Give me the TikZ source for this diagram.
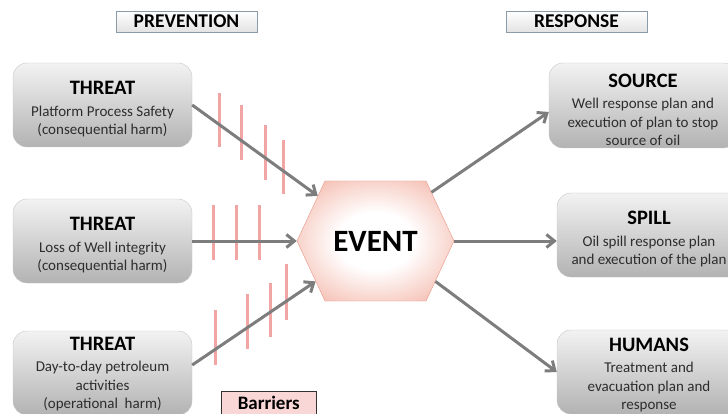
\documentclass[tikz,border=0pt]{standalone}
\usepackage{fontspec}
\setmainfont{Carlito}
\usetikzlibrary{shapes.symbols,arrows.meta,positioning}

\definecolor{arrowgray}{RGB}{125,125,125}
\definecolor{barrierpink}{RGB}{242,165,165}
\definecolor{salmon}{RGB}{240,160,142}
\definecolor{hexborder}{RGB}{232,150,135}
\definecolor{labelpink}{RGB}{250,215,215}
\definecolor{labelframe}{RGB}{140,155,170}
\definecolor{boxtext}{RGB}{45,45,45}

\pgfdeclareradialshading{eventglow}{\pgfpoint{0bp}{0bp}}{%
  color(0bp)=(white); color(12bp)=(white); color(40bp)=(salmon); color(50bp)=(salmon)}

\tikzset{
  threatbox/.style={rounded corners=14pt, top color=gray!10, bottom color=gray!60,
    draw=gray!45, minimum width=179pt, minimum height=84pt, inner sep=0pt,
    align=center, text=boxtext, font=\fontsize{15}{18.5}\selectfont},
  headbox/.style={draw=labelframe, top color=white, bottom color=gray!22,
    minimum width=141pt, minimum height=21pt, inner sep=0pt,
    font=\bfseries\fontsize{19.5}{20}\selectfont},
  flow/.style={draw=arrowgray, line width=3pt,
    -{Straight Barb[length=8pt,width=13pt]}},
  barrier/.style={draw=barrierpink, line width=3pt},
}
\newcommand{\boxtitle}[2][22pt]{\rule{0pt}{#1}{\color{black}\bfseries\fontsize{20.5}{22}\selectfont #2}}

\begin{document}
\begin{tikzpicture}[x=1pt,y=-1pt]
\clip (0,0) rectangle (728,414);
\useasboundingbox (0,0) rectangle (728,414);

% headings
\node[headbox] (prev) at (186.5,21.5) {PREVENTION};
\node[headbox] (resp) at (576.5,21.5) {RESPONSE};

% threats
\node[threatbox] (t1) at (102.5,105) {\boxtitle{THREAT}\\[3pt]Platform Process Safety\\(consequential harm)};
\node[threatbox] (t2) at (102.5,241) {\boxtitle{THREAT}\\[3pt]Loss of Well integrity\\(consequential harm)};
\node[threatbox] (t3) at (102.5,373) {\boxtitle[15pt]{THREAT}\\[3pt]Day-to-day petroleum\\activities\\(operational\ \ harm)};

% responses
\node[threatbox, minimum width=188pt, minimum height=85pt] (src) at (643,105.5) {\boxtitle{SOURCE}\\[3pt]Well response plan and\\execution of plan to stop\\source of oil};
\node[threatbox, minimum width=184pt] (spill) at (649,235) {\boxtitle{SPILL}\\[3pt]Oil spill response plan\\and execution of the plan};
\node[threatbox, minimum width=184pt] (hum) at (649,372) {\boxtitle[19pt]{HUMANS}\\[3pt]Treatment and\\evacuation plan and\\response};

% event
\node[signal, signal to=west and east, signal pointer angle=130,
  minimum width=157pt, minimum height=120pt, inner sep=0pt,
  draw=hexborder, shading=eventglow,
  font=\bfseries\fontsize{31}{32}\selectfont] (event) at (375.5,241) {EVENT};

% barriers
\foreach \x/\ya/\yb in {219/93/147, 241/105/160, 265/125/180, 283/140/194,
    213/205/260, 236/205/260, 259/205/260,
    215/310/365, 247/294/349, 270/283/337, 286/264/320}
  \draw[barrier] (\x,\ya) -- (\x,\yb);

\node[draw=black!80, fill=labelpink, minimum width=95pt, minimum height=24pt,
  inner sep=0pt, anchor=north west, font=\bfseries\fontsize{19}{20}\selectfont]
  (barr) at (221,391) {Barriers};

% connectors
\draw[flow] (t1.east) -- (event.142);
\draw[flow] (t2.east) -- (event.west);
\draw[flow] ([yshift=8pt]t3.east) -- (event.214);
\draw[flow] (event.41) -- ([yshift=-6.5pt]src.west);
\draw[flow] (event.east) -- (event.east -| spill.west);
\draw[flow] (event.-34) -- (hum.west);
\end{tikzpicture}
\end{document}
